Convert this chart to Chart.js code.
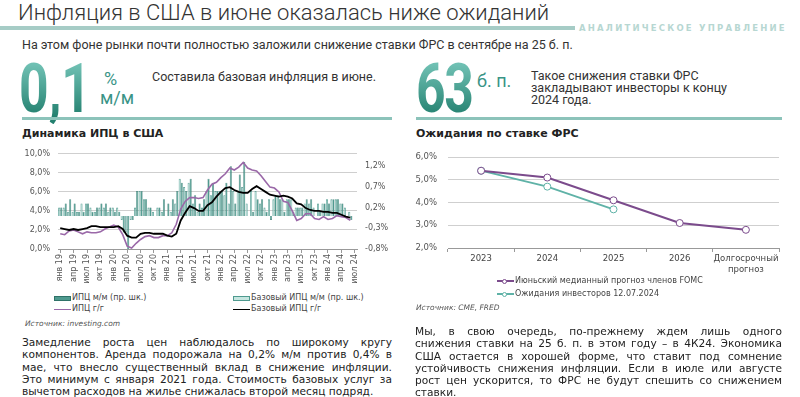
<!DOCTYPE html>
<html lang="ru">
<head>
<meta charset="utf-8">
<script src="https://cdn.jsdelivr.net/npm/chart.js@4.4.1/dist/chart.umd.min.js"></script>
<style>
    body { margin: 0; background: #fff; }
    #page { position: relative; width: 800px; height: 397px; overflow: hidden; font-family: "DejaVu Sans", sans-serif; color: #222; }
    .abs { position: absolute; white-space: nowrap; }
    .title { left: 18px; top: 0; font: 300 22px/26px Roboto, sans-serif; color: #333; }
    .rule { left: 0; top: 26px; width: 575px; height: 4px; background: #a6ccc6; }
    .brand { left: 579px; top: 23px; font: bold 8.5px/10px "DejaVu Sans", sans-serif; letter-spacing: 2.2px; color: #b7d7d2; }
    .sub { left: 22px; top: 37px; font: 400 12.5px/16px Roboto, sans-serif; color: #333; }
    .big { font: 700 68px/70px Roboto, sans-serif; transform: scaleX(0.76); transform-origin: left top;
           background: linear-gradient(180deg, #6fc0b3 15%, #23806f 90%); -webkit-background-clip: text; background-clip: text; color: transparent; }
    .unit { font: 400 18px/18px Roboto, sans-serif; color: #3a9486; }
    .note { font: 400 12.5px/12px Roboto, sans-serif; color: #333; }
    .sep { top: 117px; height: 3px; background: #8cc3ba; }
    .head { top: 127px; font: bold 11px/14px "DejaVu Sans", sans-serif; color: #222; }
    .src { font: italic 7.5px/10px "DejaVu Sans", sans-serif; color: #555; }
    .para { font: 10.6px/12.3px "DejaVu Sans", sans-serif; color: #222; }
    .para div { white-space: nowrap; text-align: justify; text-align-last: justify; }
    .para div.end { text-align-last: left; }
    .leg { font: 8px/10px "DejaVu Sans", sans-serif; color: #444; display: flex; align-items: center; }
    .box { display: inline-block; width: 17px; height: 5px; box-sizing: border-box; margin-right: 1px; }
    .ln { display: inline-block; width: 17px; height: 0; margin-right: 1px; position: relative; }
    .ln i { position: absolute; left: 5px; top: -3px; width: 5px; height: 5px; border-radius: 50%; background: #fff; box-sizing: border-box; }
</style>
</head>
<body>
<div id="page">
    <div class="abs title">Инфляция в США в июне оказалась ниже ожиданий</div>
    <div class="abs rule"></div>
    <div class="abs brand">АНАЛИТИЧЕСКОЕ УПРАВЛЕНИЕ</div>
    <div class="abs sub">На этом фоне рынки почти полностью заложили снижение ставки ФРС в сентябре на 25 б. п.</div>

    <div class="abs big" style="left:19px; top:54px;">0,1</div>
    <div class="abs unit" style="left:104px; top:70px;">%</div>
    <div class="abs unit" style="left:100px; top:89px;">м/м</div>
    <div class="abs note" style="left:152px; top:71px;">Составила базовая инфляция в июне.</div>

    <div class="abs big" style="left:416px; top:54px; letter-spacing:-2px;">63</div>
    <div class="abs unit" style="left:477px; top:72px;">б. п.</div>
    <div class="abs note" style="left:531px; top:70px;">Такое снижения ставки ФРС<br>закладывают инвесторы к концу<br>2024 года.</div>

    <div class="abs sep" style="left:22px; width:370px;"></div>
    <div class="abs sep" style="left:416px; width:366px;"></div>
    <div class="abs head" style="left:22px;">Динамика ИПЦ в США</div>
    <div class="abs head" style="left:416px;">Ожидания по ставке ФРС</div>

    <div class="abs" style="left:18px; top:141px; width:374px; height:146px;"><canvas id="cpiChart"></canvas></div>
    <div class="abs" style="left:412px; top:141px; width:372px; height:137px;"><canvas id="fedChart"></canvas></div>

    <div id="cpiLegend"></div>
    <div id="fedLegend"></div>

    <div class="abs src" style="left:25px; top:319px;">Источник: investing.com</div>
    <div class="abs src" style="left:416px; top:303px;">Источник: CME, FRED</div>

    <div class="abs para" style="left:22px; top:336px; width:370px;">
        <div>Замедление роста цен наблюдалось по широкому кругу</div>
        <div>компонентов. Аренда подорожала на 0,2% м/м против 0,4% в</div>
        <div>мае, что внесло существенный вклад в снижение инфляции.</div>
        <div>Это минимум с января 2021 года. Стоимость базовых услуг за</div>
        <div class="end">вычетом расходов на жилье снижалась второй месяц подряд.</div>
    </div>
    <div class="abs para" style="left:415px; top:325px; width:367px;">
        <div>Мы, в свою очередь, по-прежнему ждем лишь одного</div>
        <div>снижения ставки на 25 б. п. в этом году – в 4К24. Экономика</div>
        <div>США остается в хорошей форме, что ставит под сомнение</div>
        <div>устойчивость снижения инфляции. Если в июле или августе</div>
        <div>рост цен ускорится, то ФРС не будут спешить со снижением</div>
        <div class="end">ставки.</div>
    </div>
</div>

<script>
// months янв 19 .. июл 24
const monthNames = ['янв', 'фев', 'мар', 'апр', 'май', 'июн', 'июл', 'авг', 'сен', 'окт', 'ноя', 'дек'];
const years = ['19', '20', '21', '22', '23', '24'];
const lastMonth = 6;

// ИПЦ м/м, % (right axis)
const cpiMoM = [
    0.2, 0.3, 0.4, 0.3, 0.1, 0.1, 0.3, 0.1, 0.2, 0.3, 0.3, 0.2,
    0.1, 0.1, -0.4, -0.8, -0.1, 0.6, 0.6, 0.4, 0.2, 0.0, 0.2, 0.4,
    0.3, 0.4, 0.6, 0.8, 0.6, 0.9, 0.5, 0.3, 0.4, 0.9, 0.8, 0.6,
    0.6, 0.8, 1.2, 0.3, 1.0, 1.3, 0.0, 0.1, 0.4, 0.4, 0.1, -0.1,
    0.5, 0.4, 0.1, 0.4, 0.1, 0.2, 0.2, 0.4, 0.4, 0.0, 0.1, 0.3,
    0.3, 0.4, 0.4, 0.3, 0.0, -0.1, null
];
// Базовый ИПЦ м/м, %
const coreMoM = [
    0.2, 0.2, 0.1, 0.1, 0.1, 0.3, 0.3, 0.2, 0.1, 0.2, 0.2, 0.1,
    0.2, 0.2, -0.1, -0.4, -0.1, 0.2, 0.6, 0.4, 0.2, 0.1, 0.2, 0.1,
    0.0, 0.1, 0.3, 0.9, 0.7, 0.8, 0.3, 0.1, 0.2, 0.6, 0.5, 0.6,
    0.6, 0.5, 0.3, 0.6, 0.6, 0.7, 0.3, 0.6, 0.6, 0.3, 0.2, 0.4,
    0.4, 0.5, 0.4, 0.4, 0.4, 0.2, 0.2, 0.3, 0.3, 0.2, 0.3, 0.3,
    0.4, 0.4, 0.4, 0.3, 0.2, 0.1, null
];
// ИПЦ г/г, %
const cpiYoY = [
    1.6, 1.5, 1.9, 2.0, 1.8, 1.6, 1.8, 1.7, 1.7, 1.8, 2.1, 2.3,
    2.5, 2.3, 1.5, 0.3, 0.1, 0.6, 1.0, 1.3, 1.4, 1.2, 1.2, 1.4,
    1.4, 1.7, 2.6, 4.2, 5.0, 5.4, 5.4, 5.3, 5.4, 6.2, 6.8, 7.0,
    7.5, 7.9, 8.5, 8.3, 8.6, 9.1, 8.5, 8.3, 8.2, 7.7, 7.1, 6.5,
    6.4, 6.0, 5.0, 4.9, 4.0, 3.0, 3.2, 3.7, 3.7, 3.2, 3.1, 3.4,
    3.1, 3.2, 3.5, 3.4, 3.3, 3.0, null
];
// Базовый ИПЦ г/г, %
const coreYoY = [
    2.2, 2.1, 2.0, 2.1, 2.0, 2.1, 2.2, 2.4, 2.4, 2.3, 2.3, 2.3,
    2.3, 2.4, 2.1, 1.4, 1.2, 1.2, 1.6, 1.7, 1.7, 1.6, 1.6, 1.6,
    1.4, 1.3, 1.6, 3.0, 3.8, 4.5, 4.3, 4.0, 4.0, 4.6, 4.9, 5.5,
    6.0, 6.4, 6.5, 6.2, 6.0, 5.9, 5.9, 6.3, 6.6, 6.3, 6.0, 5.7,
    5.6, 5.5, 5.6, 5.5, 5.3, 4.8, 4.7, 4.3, 4.1, 4.0, 4.0, 3.9,
    3.9, 3.8, 3.8, 3.6, 3.4, 3.3, null
];
const rightTicks = [-0.8, -0.3, 0.2, 0.7, 1.2];

// ставка ФРС
const fedLabels = ['2023', '2024', '2025', '2026', ['Долгосрочный', 'прогноз']];
const fomcJune = [5.4, 5.1, 4.1, 3.1, 2.8];
const investors = [5.4, 4.7, 3.7, null, null];

const teal = '#4f9a8f';
const purple = '#9a68a8';
const tickFont = { family: 'DejaVu Sans', size: 8 };
const pct = v => Number(v).toFixed(1).replace('.', ',') + '%';

const monthLabels = [];
years.forEach((y, yi) => {
    monthNames.forEach((m, mi) => {
        if (yi < years.length - 1 || mi <= lastMonth) monthLabels.push(m + ' ' + y);
    });
});

const cpiSeries = [
    { label: 'ИПЦ м/м (пр. шк.)', kind: 'box', fill: teal, border: '#2f7268' },
    { label: 'Базовый ИПЦ м/м (пр. шк.)', kind: 'box', fill: '#c6e6e0', border: teal },
    { label: 'ИПЦ г/г', kind: 'line', color: purple },
    { label: 'Базовый ИПЦ г/г', kind: 'line', color: '#000' }
];

new Chart(document.getElementById('cpiChart'), {
    data: {
        labels: monthLabels,
        datasets: [
            { type: 'line', label: cpiSeries[2].label, data: cpiYoY, yAxisID: 'y', borderColor: purple, borderWidth: 1.6, pointRadius: 0, order: 1 },
            { type: 'line', label: cpiSeries[3].label, data: coreYoY, yAxisID: 'y', borderColor: '#000', borderWidth: 1.8, pointRadius: 0, order: 0 },
            { type: 'bar', label: cpiSeries[0].label, data: cpiMoM, yAxisID: 'y1', backgroundColor: teal, borderColor: '#2f7268', borderWidth: 0.5, order: 3 },
            { type: 'bar', label: cpiSeries[1].label, data: coreMoM, yAxisID: 'y1', backgroundColor: '#c6e6e0', borderColor: teal, borderWidth: 0.8, order: 2 }
        ]
    },
    options: {
        responsive: true,
        maintainAspectRatio: false,
        animation: false,
        layout: { padding: { top: 3 } },
        datasets: { bar: { barPercentage: 1, categoryPercentage: 0.92 } },
        plugins: { legend: { display: false }, tooltip: { enabled: false } },
        scales: {
            x: {
                offset: true,
                grid: { offset: false, drawOnChartArea: false, tickLength: 4, color: ctx => ctx.index % 3 === 0 ? '#999' : 'rgba(0,0,0,0)' },
                border: { color: '#999' },
                ticks: { autoSkip: false, maxRotation: 90, minRotation: 90, padding: 1, font: tickFont, color: '#555',
                         callback: (v, i) => i % 3 === 0 ? monthLabels[i] : '' },
                afterFit: s => { s.height = 38; }
            },
            y: {
                position: 'left', min: 0, max: 10,
                ticks: { stepSize: 2, font: tickFont, color: '#555', padding: 8, callback: v => pct(v) },
                grid: { color: '#cfcfcf', drawTicks: false },
                border: { display: false },
                afterFit: s => { s.width = 40; }
            },
            y1: {
                position: 'right', min: -0.8, max: 1.5,
                afterBuildTicks: s => { s.ticks = rightTicks.map(v => ({ value: v })); },
                ticks: { font: tickFont, color: '#555', padding: 0, callback: v => pct(v) },
                grid: { display: false },
                border: { display: false },
                afterFit: s => { s.width = 35; }
            }
        }
    }
});

const fedSeries = [
    { label: 'Июньский медианный прогноз  членов FOMC', color: '#7b4b8c' },
    { label: 'Ожидания инвесторов 12.07.2024', color: '#5fb2a7' }
];

new Chart(document.getElementById('fedChart'), {
    type: 'line',
    data: {
        labels: fedLabels,
        datasets: [
            { label: fedSeries[0].label, data: fomcJune, borderColor: fedSeries[0].color, borderWidth: 2,
              pointRadius: 3.5, pointBackgroundColor: '#fff', pointBorderColor: fedSeries[0].color, pointBorderWidth: 1 },
            { label: fedSeries[1].label, data: investors, borderColor: fedSeries[1].color, borderWidth: 1.8,
              pointRadius: 3.5, pointBackgroundColor: '#fff', pointBorderColor: fedSeries[1].color, pointBorderWidth: 1 }
        ]
    },
    options: {
        responsive: true,
        maintainAspectRatio: false,
        animation: false,
        layout: { padding: { top: 3, right: 3 } },
        plugins: { legend: { display: false }, tooltip: { enabled: false } },
        scales: {
            x: {
                offset: true,
                grid: { offset: true, drawOnChartArea: false, tickLength: 4, color: '#999' },
                border: { color: '#999' },
                ticks: { autoSkip: false, font: { family: 'DejaVu Sans', size: 8.5 }, color: '#444', padding: 2, maxRotation: 0 },
                afterFit: s => { s.height = 30; }
            },
            y: {
                min: 2, max: 6,
                ticks: { stepSize: 1, font: { family: 'DejaVu Sans', size: 8.5 }, color: '#555', padding: 11, callback: v => pct(v) },
                grid: { color: '#cfcfcf', drawTicks: false },
                border: { display: false },
                afterFit: s => { s.width = 36; }
            }
        }
    }
});

// legends
function marker(s) {
    if (s.kind === 'box') return `<span class="box" style="background:${s.fill}; border:1px solid ${s.border};"></span>`;
    return `<span class="ln" style="border-top:1.6px solid ${s.color};"></span>`;
}
const cpiPos = [[54, 293], [233, 293], [54, 304], [233, 304]];
document.getElementById('cpiLegend').innerHTML = cpiSeries.map((s, i) =>
    `<div class="abs leg" style="left:${cpiPos[i][0]}px; top:${cpiPos[i][1]}px;">${marker(s)}${s.label}</div>`).join('');

document.getElementById('fedLegend').innerHTML = fedSeries.map((s, i) =>
    `<div class="abs leg" style="left:497px; top:${276 + i * 13}px;"><span class="ln" style="border-top:2px solid ${s.color};"><i style="border:1px solid ${s.color};"></i></span>${s.label}</div>`).join('');
</script>
</body>
</html>
